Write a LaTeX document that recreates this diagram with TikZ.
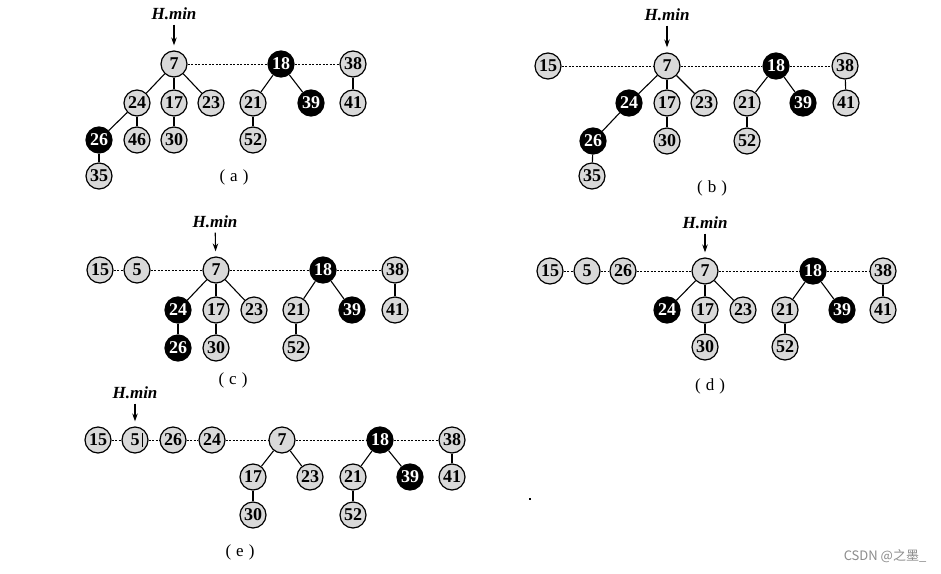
\documentclass[tikz,border=0pt]{standalone}
\usepackage{fontspec}
\setmainfont{Liberation Serif}
\newfontfamily\cjk{Noto Sans CJK SC}
\usetikzlibrary{arrows.meta}
\definecolor{lgray}{HTML}{D9D9D9}
\definecolor{wmgray}{HTML}{8C8C8C}
\tikzset{
  hn/.style={circle, draw=black, line width=1.2pt, fill=lgray, minimum size=26pt, inner sep=0pt,
    font=\fontsize{18}{18}\selectfont\bfseries},
  bn/.style={hn, fill=black, text=white},
  edge/.style={line width=1.1pt},
  dl/.style={line width=0.9pt, dash pattern=on 2pt off 1.5pt},
  hmin/.style={font=\fontsize{17}{17}\selectfont\bfseries\itshape},
  harrow/.style={line width=1.1pt, -{Stealth[length=8pt,width=5.5pt]}, shorten >=5pt, shorten <=1pt},
  panellab/.style={font=\fontsize{17}{17}\selectfont},
}
\newcommand{\plab}[1]{(\hspace{5pt}#1\hspace{5pt})}
\begin{document}
\begin{tikzpicture}[x=1pt,y=-1pt]
\useasboundingbox[fill=white] (0,0) rectangle (941,573);

% ---------------- (a)
\node[hmin] (ah) at (174,14) {H.min};
\node[hn] (a7) at (174,64) {7};
\node[bn] (a18) at (281,64) {18};
\node[hn] (a38) at (353,64) {38};
\node[hn] (a24) at (137,103) {24};
\node[hn] (a17) at (174,103) {17};
\node[hn] (a23) at (211,103) {23};
\node[hn] (a21) at (253,103) {21};
\node[bn] (a39) at (311,103) {39};
\node[hn] (a41) at (353,103) {41};
\node[bn] (a26) at (99,140) {26};
\node[hn] (a46) at (137,140) {46};
\node[hn] (a30) at (174,140) {30};
\node[hn] (a52) at (253,140) {52};
\node[hn] (a35) at (99,176) {35};
\node[panellab] (alab) at (234,177) {\plab{a}};
\draw[harrow] (ah) -- (a7);
\draw[dl] (a7) -- (a18);
\draw[dl] (a18) -- (a38);
\draw[edge] (a7) -- (a24);
\draw[edge] (a7) -- (a17);
\draw[edge] (a7) -- (a23);
\draw[edge] (a24) -- (a26);
\draw[edge] (a24) -- (a46);
\draw[edge] (a17) -- (a30);
\draw[edge] (a26) -- (a35);
\draw[edge] (a18) -- (a21);
\draw[edge] (a18) -- (a39);
\draw[edge] (a21) -- (a52);
\draw[edge] (a38) -- (a41);

% ---------------- (b)
\node[hmin] (bh) at (667,15) {H.min};
\node[hn] (b15) at (548,66) {15};
\node[hn] (b7) at (667,66) {7};
\node[bn] (b18) at (776,66) {18};
\node[hn] (b38) at (845,66) {38};
\node[bn] (b24) at (629,103) {24};
\node[hn] (b17) at (667,103) {17};
\node[hn] (b23) at (704,103) {23};
\node[hn] (b21) at (747,103) {21};
\node[bn] (b39) at (803,103) {39};
\node[hn] (b41) at (846,103) {41};
\node[bn] (b26) at (593,141) {26};
\node[hn] (b30) at (667,141) {30};
\node[hn] (b52) at (747,141) {52};
\node[hn] (b35) at (592,176) {35};
\node[panellab] (blab) at (712,188) {\plab{b}};
\draw[harrow] (bh) -- (b7);
\draw[dl] (b15) -- (b7);
\draw[dl] (b7) -- (b18);
\draw[dl] (b18) -- (b38);
\draw[edge] (b7) -- (b24);
\draw[edge] (b7) -- (b17);
\draw[edge] (b7) -- (b23);
\draw[edge] (b24) -- (b26);
\draw[edge] (b17) -- (b30);
\draw[edge] (b26) -- (b35);
\draw[edge] (b18) -- (b21);
\draw[edge] (b18) -- (b39);
\draw[edge] (b21) -- (b52);
\draw[edge] (b38) -- (b41);

% ---------------- (c)
\node[hmin] (ch) at (215,222) {H.min};
\node[hn] (c15) at (100,270) {15};
\node[hn] (c5) at (137,270) {5};
\node[hn] (c7) at (216,270) {7};
\node[bn] (c18) at (323,270) {18};
\node[hn] (c38) at (395,270) {38};
\node[bn] (c24) at (178,310) {24};
\node[hn] (c17) at (216,310) {17};
\node[hn] (c23) at (254,310) {23};
\node[hn] (c21) at (296,310) {21};
\node[bn] (c39) at (352,310) {39};
\node[hn] (c41) at (395,310) {41};
\node[bn] (c26) at (178,348) {26};
\node[hn] (c30) at (216,348) {30};
\node[hn] (c52) at (296,348) {52};
\node[panellab] (clab) at (233,380) {\plab{c}};
\draw[harrow] (ch) -- (c7);
\draw[dl] (c15) -- (c5);
\draw[dl] (c5) -- (c7);
\draw[dl] (c7) -- (c18);
\draw[dl] (c18) -- (c38);
\draw[edge] (c7) -- (c24);
\draw[edge] (c7) -- (c17);
\draw[edge] (c7) -- (c23);
\draw[edge] (c24) -- (c26);
\draw[edge] (c17) -- (c30);
\draw[edge] (c18) -- (c21);
\draw[edge] (c18) -- (c39);
\draw[edge] (c21) -- (c52);
\draw[edge] (c38) -- (c41);

% ---------------- (d)
\node[hmin] (dh) at (705,223) {H.min};
\node[hn] (d15) at (550,271) {15};
\node[hn] (d5) at (587,271) {5};
\node[hn] (d26) at (623,271) {26};
\node[hn] (d7) at (705,271) {7};
\node[bn] (d18) at (813,271) {18};
\node[hn] (d38) at (883,271) {38};
\node[bn] (d24) at (667,310) {24};
\node[hn] (d17) at (705,310) {17};
\node[hn] (d23) at (743,310) {23};
\node[hn] (d21) at (785,310) {21};
\node[bn] (d39) at (842,310) {39};
\node[hn] (d41) at (883,310) {41};
\node[hn] (d30) at (705,347) {30};
\node[hn] (d52) at (785,347) {52};
\node[panellab] (dlab) at (710,386) {\plab{d}};
\draw[harrow] (dh) -- (d7);
\draw[dl] (d15) -- (d5);
\draw[dl] (d5) -- (d26);
\draw[dl] (d26) -- (d7);
\draw[dl] (d7) -- (d18);
\draw[dl] (d18) -- (d38);
\draw[edge] (d7) -- (d24);
\draw[edge] (d7) -- (d17);
\draw[edge] (d7) -- (d23);
\draw[edge] (d17) -- (d30);
\draw[edge] (d18) -- (d21);
\draw[edge] (d18) -- (d39);
\draw[edge] (d21) -- (d52);
\draw[edge] (d38) -- (d41);

% ---------------- (e)
\node[hmin] (eh) at (135,393) {H.min};
\node[hn] (e15) at (98,440) {15};
\node[hn] (e5) at (135,440) {5};
\node[hn] (e26) at (173,440) {26};
\node[hn] (e24) at (212,440) {24};
\node[hn] (e7) at (282,440) {7};
\node[bn] (e18) at (380,440) {18};
\node[hn] (e38) at (452,440) {38};
\node[hn] (e17) at (253,477) {17};
\node[hn] (e23) at (310,477) {23};
\node[hn] (e21) at (353,477) {21};
\node[bn] (e39) at (410,477) {39};
\node[hn] (e41) at (452,477) {41};
\node[hn] (e30) at (253,515) {30};
\node[hn] (e52) at (353,515) {52};
\node[panellab] (elab) at (240,552) {\plab{e}};
\draw[line width=0.8pt] ([xshift=7pt,yshift=-7pt]e5.center) -- ([xshift=7pt,yshift=7pt]e5.center);
\draw[harrow] (eh) -- (e5);
\draw[dl] (e15) -- (e5);
\draw[dl] (e5) -- (e26);
\draw[dl] (e26) -- (e24);
\draw[dl] (e24) -- (e7);
\draw[dl] (e7) -- (e18);
\draw[dl] (e18) -- (e38);
\draw[edge] (e7) -- (e17);
\draw[edge] (e7) -- (e23);
\draw[edge] (e17) -- (e30);
\draw[edge] (e18) -- (e21);
\draw[edge] (e18) -- (e39);
\draw[edge] (e21) -- (e52);
\draw[edge] (e38) -- (e41);

% stray dot
\fill (529,498) rectangle (531,500);

% watermark
\node[font=\cjk\fontsize{13}{13}\selectfont, text=wmgray] (wm) at (885,556) {CSDN @之墨\_};
\end{tikzpicture}
\end{document}
